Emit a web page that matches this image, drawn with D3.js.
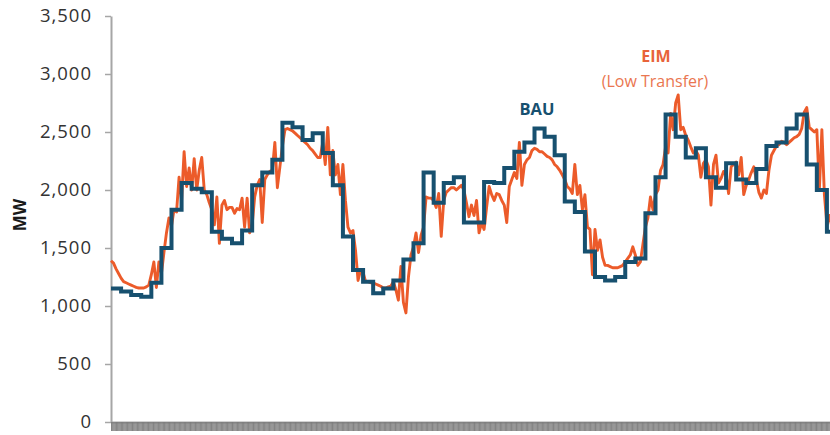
<!DOCTYPE html>
<html>
<head>
<meta charset="utf-8">
<script src="https://cdn.jsdelivr.net/npm/d3@7"></script>
<style>
  html, body { margin: 0; padding: 0; background: #fff; }
  svg { display: block; font-family: "Open Sans", "Liberation Sans", sans-serif; }
</style>
</head>
<body>
<svg id="chart"></svg>
<script>
// Hourly business-as-usual dispatch (MW), one value per hour over three days
const bauMW = [
  1150, 1125, 1095, 1080, 1200, 1500, 1830, 2060, 2010, 1980, 1640, 1580,
  1540, 1650, 2040, 2150, 2260, 2580, 2540, 2430, 2490, 2320, 2040, 1600,
  1310, 1210, 1110, 1150, 1220, 1400, 1540, 2150, 1890, 2060, 2110, 1720,
  1720, 2070, 2060, 2190, 2330, 2410, 2530, 2460, 2300, 1900, 1810, 1470,
  1250, 1220, 1250, 1380, 1410, 1800, 2110, 2650, 2460, 2280, 2360, 2110,
  2020, 2230, 2090, 2060, 2180, 2380, 2410, 2530, 2650, 2220, 2000, 1640
];

// EIM (low transfer) dispatch (MW), four readings per hour
const eimMW = [
  1390, 1370, 1320, 1280,  1240, 1210, 1200, 1190,  1180, 1170, 1160, 1155,
  1155, 1155, 1165, 1180,  1270, 1380, 1160, 1380,  1280, 1460, 1630, 1760,
  1690, 1830, 1810, 2110,  1910, 2330, 2030, 2190,  2000, 2270, 2000, 2170,
  2280, 2000, 1960, 1890,  1830, 1700, 1940, 1540,  1870, 1910, 1830, 1850,
  1850, 1800, 1840, 1830,  1930, 1680, 1930, 1630,  1700, 1940, 2040, 2090,
  1720, 2090, 2130, 2160,  2170, 2410, 2020, 2200,  2380, 2520, 2530, 2520,
  2510, 2490, 2470, 2450,  2430, 2410, 2390, 2360,  2340, 2310, 2280, 2280,
  2410, 2220, 2540, 2130,  2340, 2130, 2220, 1960,  2220, 1910, 1680, 1630,
  1650, 1480, 1220, 1310,  1290, 1210, 1210, 1200,  1200, 1190, 1180, 1170,
  1155, 1155, 1165, 1170,  1210, 1140, 1050, 1340,  1030,  940, 1250, 1440,
  1510, 1630, 1460, 1610,  1680, 1940, 1930, 1930,  1910, 1850, 1970, 1600,
  1910, 1980, 2000, 2020,  2020, 2000, 2020, 2040,  2000, 1890, 1770, 1870,
  1780, 1910, 1630, 1720,  1660, 1850, 2030, 1960,  1910, 1970, 1960, 1910,
  1870, 1720, 2030, 2090,  2150, 2100, 2410, 2040,  2220, 2260, 2280, 2340,
  2360, 2350, 2330, 2330,  2310, 2290, 2280, 2260,  2220, 2200, 2170, 2130,
  2090, 2030, 2010, 1970,  2220, 1960, 2040, 1830,  1960, 1680, 1660, 1270,
  1660, 1480, 1570, 1420,  1350, 1350, 1340, 1330,  1330, 1330, 1340, 1350,
  1380, 1410, 1440, 1510,  1440, 1350, 1380, 1530,  1680, 1760, 1940, 1830,
  1960, 2000, 2170, 2220,  2370, 2320, 2660, 2520,  2750, 2820, 2520, 2540,
  2470, 2430, 2370, 2320,  2340, 2300, 2110, 2230,  2260, 2200, 1870, 2220,
  2300, 2060, 2100, 2160,  2130, 1970, 2200, 2220,  2240, 2130, 2280, 1960,
  2040, 2090, 2150, 2200,  2090, 1980, 1930, 2000,  1970, 2170, 2300, 2340,
  2380, 2390, 2420, 2410,  2390, 2410, 2430, 2450,  2460, 2480, 2530, 2670,
  2710, 2540, 2520, 2500,  2520, 2000, 2520, 1960,  1700, 1780, 1680, 1640
];

const yTicks = [0, 500, 1000, 1500, 2000, 2500, 3000, 3500];
const yLabel = "MW";
const seriesNames = ["BAU", "EIM", "(Low Transfer)"];

const hours = bauMW.length;          // 72
const eimPerHour = eimMW.length / hours;
const ticksPerHour = 12;             // 5-minute intervals along the x axis

const width = 830, height = 435;
const svg = d3.select("#chart").attr("width", width).attr("height", height);

const x = d3.scaleLinear().domain([0, hours]).range([111, 837]);
const y = d3.scaleLinear().domain([0, 3500]).range([422, 16]);

// --- axes ---
const yAxis = svg.append("g")
  .attr("transform", `translate(${x(0)},0)`)
  .call(d3.axisLeft(y).tickValues(yTicks).tickSize(6).tickSizeOuter(0)
    .tickPadding(13).tickFormat(d3.format(",")));
yAxis.select(".domain").attr("stroke", "#a6a6a6").attr("stroke-width", 2);
yAxis.selectAll(".tick line").attr("stroke", "#a6a6a6").attr("stroke-width", 1.5);
yAxis.selectAll(".tick text")
  .attr("fill", "#333")
  .style("font-size", "18.5px")
  .style("letter-spacing", "1px")
  .style("font-family", "'Open Sans', sans-serif");

const xTickVals = d3.range(0, hours * ticksPerHour + 1).map(i => i / ticksPerHour);
const xAxis = svg.append("g")
  .attr("transform", `translate(0,${y(0)})`)
  .call(d3.axisBottom(x).tickValues(xTickVals).tickSize(9).tickSizeOuter(0).tickFormat(""));
xAxis.select(".domain").attr("stroke", "#a6a6a6").attr("stroke-width", 2);
xAxis.selectAll(".tick line").attr("stroke", "#7a7a7a").attr("stroke-width", 0.9);

svg.append("text")
  .attr("transform", `translate(26,215) rotate(-90)`)
  .attr("text-anchor", "middle")
  .attr("fill", "#1a1a1a")
  .style("font-size", "17px")
  .style("font-weight", "bold")
  .text(yLabel);

// --- lines ---
const eimPoints = eimMW.map((v, i) => ({ h: i / eimPerHour, v }));
svg.append("path")
  .datum(eimPoints)
  .attr("fill", "none")
  .attr("stroke", "#ec5b2a")
  .attr("stroke-width", 2.9)
  .attr("stroke-linejoin", "round")
  .attr("d", d3.line().x(d => x(d.h)).y(d => y(d.v)));

const bauPoints = bauMW.map((v, i) => ({ h: i, v }));
bauPoints.push({ h: hours, v: bauMW[hours - 1] });
svg.append("path")
  .datum(bauPoints)
  .attr("fill", "none")
  .attr("stroke", "#17506f")
  .attr("stroke-width", 4)
  .attr("stroke-linejoin", "miter")
  .attr("d", d3.line().curve(d3.curveStepAfter).x(d => x(d.h)).y(d => y(d.v)));

// --- series labels ---
svg.append("text")
  .attr("x", 537).attr("y", 115)
  .attr("text-anchor", "middle")
  .attr("fill", "#17506f")
  .style("font-size", "16.5px")
  .style("font-weight", "bold")
  .text(seriesNames[0]);

svg.append("text")
  .attr("x", 656).attr("y", 62)
  .attr("text-anchor", "middle")
  .attr("fill", "#e8633a")
  .style("font-size", "16px")
  .style("font-weight", "bold")
  .text(seriesNames[1]);

svg.append("text")
  .attr("x", 655).attr("y", 87)
  .attr("text-anchor", "middle")
  .attr("fill", "#ea7650")
  .style("font-size", "16px")
  .text(seriesNames[2]);
</script>
</body>
</html>
